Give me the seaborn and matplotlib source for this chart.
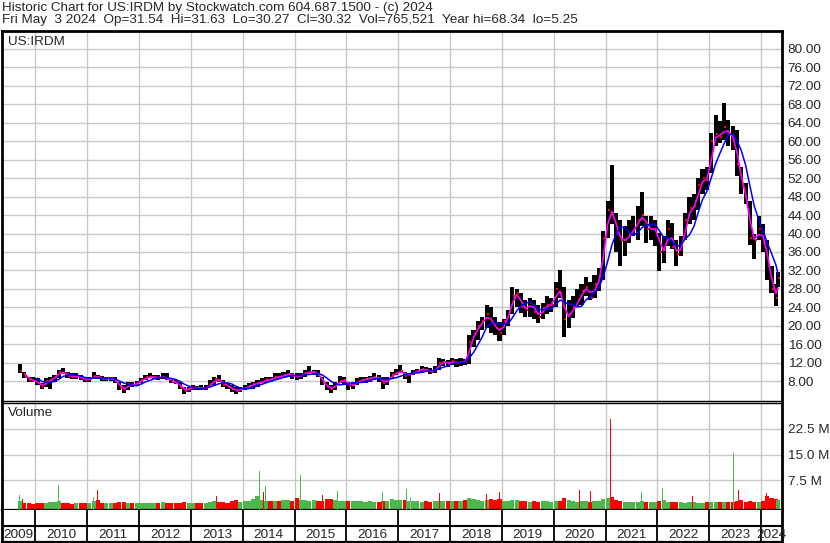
import matplotlib
matplotlib.use("Agg")
import matplotlib.pyplot as plt
import matplotlib.ticker as mticker
import numpy as np
import pandas as pd
import seaborn as sns

# ------------------------
# Data (monthly)
# ------------------------

months = pd.date_range("2009-09-01", "2024-05-01", freq="MS")

lows = [
    9.7, 8.6, 7.9, 7.9,  # 2009 Sep-Dec
    7.1, 6.2, 6.8, 6.4, 7.9, 8.6, 9.7, 8.6, 8.4, 8.4, 8.2, 7.9,  # 2010
    7.9, 8.4, 8.4, 8.1, 8.1, 8.1, 7.7, 6.0, 5.5, 6.0, 6.8, 6.9,  # 2011
    7.5, 8.2, 8.6, 8.4, 8.2, 8.4, 8.2, 7.5, 7.4, 6.4, 5.25, 5.7,  # 2012
    6.0, 6.0, 6.0, 6.0, 6.8, 7.2, 7.8, 6.8, 6.4, 5.7, 5.3, 5.7,  # 2013
    6.0, 6.2, 6.4, 6.8, 7.5, 7.7, 7.9, 8.2, 8.4, 8.6, 8.9, 8.4,  # 2014
    8.2, 8.4, 8.9, 9.7, 9.3, 8.8, 7.1, 6.0, 5.5, 6.0, 7.5, 7.1,  # 2015
    6.0, 6.4, 7.1, 7.7, 7.7, 7.9, 8.2, 7.9, 6.4, 7.1, 8.6, 9.3,  # 2016
    9.7, 8.4, 7.7, 9.3, 9.7, 9.8, 9.9, 9.6, 9.8, 10.4, 11.2, 11.0,  # 2017
    11.5, 11.1, 11.3, 11.5, 11.8, 15.5, 17.0, 19.0, 19.5, 18.5, 18.0, 16.7,  # 2018
    18.0, 19.9, 22.5, 24.0, 22.8, 22.0, 22.0, 21.4, 20.5, 21.5, 22.5, 23.0,  # 2019
    24.0, 26.0, 17.6, 19.5, 21.6, 24.0, 24.4, 26.5, 25.5, 26.0, 27.5, 30.0,  # 2020
    39.0, 42.0, 35.9, 33.0, 35.1, 38.0, 39.4, 38.7, 41.6, 38.0, 38.7, 37.3,  # 2021
    31.9, 33.7, 37.3, 36.6, 33.0, 35.1, 38.5, 42.0, 43.0, 45.0, 48.5, 49.5,  # 2022
    53.1, 58.9, 59.6, 60.3, 58.9, 58.1, 52.4, 48.5, 46.5, 37.5, 34.4, 38.5,  # 2023
    36.0, 30.0, 27.0, 24.3, 28.5,  # 2024 Jan-May
]

highs = [
    11.8, 10.0, 8.9, 8.8,
    8.6, 7.5, 8.6, 8.8, 9.3, 10.5, 10.9, 10.0, 9.7, 9.8, 9.3, 8.9,
    8.9, 9.9, 9.3, 9.1, 8.9, 8.9, 8.8, 7.9, 7.1, 7.9, 7.9, 8.1,
    8.6, 9.3, 9.7, 9.3, 9.3, 9.7, 9.7, 8.6, 8.2, 7.9, 6.8, 6.8,
    7.1, 6.9, 7.1, 7.1, 8.2, 8.9, 9.3, 8.2, 7.6, 7.1, 6.8, 6.8,
    7.1, 7.5, 7.9, 8.2, 8.6, 8.9, 8.8, 9.7, 9.7, 10.0, 10.4, 9.7,
    9.7, 9.8, 10.4, 11.3, 10.5, 10.4, 8.9, 7.9, 7.1, 7.9, 9.1, 8.9,
    7.9, 7.9, 8.6, 8.9, 8.9, 9.1, 9.7, 9.3, 8.8, 8.9, 10.0, 10.7,
    11.4, 10.0, 9.7, 10.5, 10.7, 11.3, 11.0, 10.8, 11.3, 13.1, 12.8, 12.6,
    13.1, 12.8, 13.0, 12.9, 18.1, 19.0, 21.0, 21.8, 24.5, 24.0, 22.0, 20.8,
    21.5, 23.5, 28.5, 28.0, 27.0, 25.5, 26.0, 25.5, 24.5, 25.0, 26.4, 26.0,
    29.5, 32.1, 28.5, 25.5, 26.5, 28.0, 29.0, 30.5, 29.5, 31.0, 32.5, 40.5,
    47.0, 54.8, 44.4, 43.0, 41.6, 43.0, 43.7, 45.9, 49.0, 43.7, 43.7, 43.0,
    40.1, 39.4, 43.0, 42.3, 38.7, 39.4, 44.5, 48.0, 48.5, 52.0, 54.0, 54.5,
    61.7, 65.7, 64.3, 68.34, 64.6, 63.2, 62.5, 54.5, 51.0, 47.0, 40.0, 43.8,
    42.0, 38.7, 33.0, 29.0, 31.63,
]

closes = [
    10.2, 9.0, 8.3, 8.1,
    7.5, 6.8, 8.0, 8.3, 9.0, 10.0, 9.8, 9.2, 8.9, 9.0, 8.6, 8.3,
    8.4, 9.2, 8.8, 8.5, 8.5, 8.6, 8.0, 6.5, 6.3, 7.3, 7.2, 7.6,
    8.3, 8.8, 8.8, 8.9, 8.7, 9.0, 8.5, 7.9, 7.6, 6.8, 5.8, 6.5,
    6.7, 6.5, 6.4, 6.6, 7.4, 8.4, 8.3, 7.2, 6.8, 6.2, 5.9, 6.3,
    6.6, 6.9, 7.4, 7.6, 7.9, 8.4, 8.3, 9.0, 8.9, 9.3, 9.6, 9.2,
    8.9, 9.3, 9.8, 10.0, 10.0, 9.3, 7.6, 6.7, 6.2, 7.4, 8.0, 8.2,
    7.0, 7.2, 7.9, 8.3, 8.4, 8.6, 8.9, 8.6, 7.5, 8.3, 9.4, 9.8,
    10.2, 9.2, 9.5, 9.8, 10.3, 10.6, 10.4, 10.0, 10.5, 12.0, 12.2, 11.8,
    12.3, 11.9, 12.2, 12.1, 16.5, 18.3, 20.0, 21.0, 22.5, 20.5, 19.5, 18.5,
    21.0, 23.0, 26.5, 27.0, 24.0, 23.5, 25.0, 23.0, 22.0, 23.8, 24.5, 24.6,
    28.0, 27.0, 21.5, 22.5, 24.0, 25.5, 27.5, 28.5, 26.0, 29.0, 30.5, 39.0,
    45.0, 44.5, 40.0, 38.5, 38.5, 40.0, 41.0, 43.0, 44.0, 41.0, 41.0, 41.0,
    36.0, 36.5, 41.0, 37.0, 35.5, 37.5, 43.0, 45.5, 46.0, 50.5, 52.0, 51.5,
    60.0, 61.5, 61.0, 63.0, 61.5, 60.5, 55.0, 50.0, 47.0, 39.0, 38.5, 41.0,
    38.0, 33.0, 28.0, 26.0, 30.32,
]

# typical daily volume in each month, millions
volumes = [
    1.6, 1.0, 0.8, 0.7,
    0.9, 1.0, 0.8, 1.2, 1.1, 1.6, 1.0, 0.8, 0.7, 0.8, 0.9, 0.8,
    0.9, 1.4, 1.8, 1.0, 0.9, 0.8, 0.9, 1.3, 1.1, 0.9, 0.8, 0.9,
    0.8, 0.9, 1.0, 0.9, 0.8, 1.2, 1.0, 0.9, 0.8, 1.0, 1.1, 0.9,
    0.8, 0.8, 0.9, 1.0, 1.2, 1.4, 1.1, 1.2, 1.0, 1.6, 1.8, 1.2,
    1.4, 1.6, 2.0, 2.8, 1.8, 1.6, 1.4, 1.5, 1.6, 1.8, 1.9, 1.5,
    2.4, 1.8, 1.9, 1.6, 1.7, 1.5, 1.6, 2.0, 2.2, 1.8, 1.6, 1.5,
    1.6, 1.5, 1.4, 1.5, 1.3, 1.4, 1.3, 1.2, 1.6, 1.4, 2.0, 1.8,
    1.7, 1.9, 1.5, 1.4, 1.6, 1.3, 1.4, 1.3, 1.4, 1.6, 1.5, 1.4,
    1.5, 1.6, 1.4, 1.9, 2.4, 2.0, 1.7, 1.6, 1.8, 2.0, 1.9, 2.0,
    1.6, 1.4, 1.8, 1.7, 1.5, 1.4, 1.3, 1.4, 1.3, 1.5, 1.4, 1.3,
    1.4, 1.6, 2.4, 1.8, 1.4, 1.3, 1.5, 1.4, 1.3, 1.4, 1.6, 2.2,
    2.4, 2.6, 1.7, 1.5, 1.3, 1.2, 1.1, 1.3, 1.4, 1.2, 1.1, 1.2,
    1.5, 1.8, 1.3, 1.2, 1.3, 1.1, 1.0, 1.2, 1.1, 1.0, 1.0, 1.1,
    1.2, 1.3, 1.1, 1.2, 1.3, 1.1, 1.6, 1.7, 1.3, 1.4, 1.3, 1.2,
    1.6, 2.8, 2.4, 2.2, 1.8,
]

# single heavy-volume days
spike_dates = pd.to_datetime([
    "2009-09-08", "2009-10-02", "2010-05-18", "2010-06-15", "2011-02-12",
    "2011-03-12", "2012-07-23", "2013-07-02", "2013-10-10", "2014-02-21",
    "2014-04-27", "2014-05-25", "2014-06-11", "2015-01-11", "2015-02-10",
    "2015-07-17", "2015-10-28", "2016-08-25", "2016-09-13", "2016-12-16",
    "2017-03-01", "2017-03-25", "2017-10-21", "2018-05-28", "2018-09-16",
    "2018-12-18", "2020-06-28", "2020-09-18", "2021-02-06", "2021-09-12",
    "2022-02-07", "2022-09-06", "2023-06-24", "2023-07-24", "2024-02-10",
])
spike_vols = [
    3.3, 2.0, 2.7, 6.2, 2.5,
    4.8, 2.0, 3.0, 3.4, 3.1,
    10.3, 4.0, 5.8, 3.0, 9.0,
    3.3, 4.4, 3.5, 4.2, 4.2,
    4.9, 2.6, 3.7, 8.8, 3.4,
    4.2, 4.7, 4.3, 25.4, 4.0,
    5.2, 3.0, 15.5, 4.6, 3.7,
]
spike_dirs = [
    "up", "down", "up", "up", "up",
    "down", "down", "down", "down", "up",
    "up", "down", "up", "down", "up",
    "down", "up", "down", "up", "down",
    "up", "flat", "down", "up", "down",
    "down", "down", "down", "down", "up",
    "up", "down", "up", "down", "down",
]

header1 = "Historic Chart for US:IRDM by Stockwatch.com 604.687.1500 - (c) 2024"
header2 = ("Fri May  3 2024  Op=31.54  Hi=31.63  Lo=30.27  Cl=30.32  "
           "Vol=765,521  Year hi=68.34  lo=5.25")
price_ticks = np.arange(8, 81, 4)
vol_ticks = [7.5, 15.0, 22.5]
vol_labels = ["7.5 M", "15.0 M", "22.5 M"]
year_starts = pd.date_range("2010-01-01", "2024-01-01", freq="YS")
year_labels = [str(y) for y in range(2009, 2025)]

# ------------------------
# Derived
# ------------------------

df = pd.DataFrame({"month": months, "low": lows, "high": highs,
                   "close": closes, "volume": volumes})
df["date"] = df["month"] + pd.Timedelta(days=14)
df.loc[df.index[-1], "date"] = pd.Timestamp("2024-05-01")
df["ma_fast"] = df["close"].rolling(2).mean()
df["ma_slow"] = df["close"].rolling(5).mean()
df["up"] = df["close"].diff().fillna(1) >= 0

COL_UP, COL_DN, COL_FLAT = "#4cb84c", "#ff0000", "#a8a8a8"
GRID = "#c8c8c8"
dir_col = {"up": COL_UP, "down": COL_DN, "flat": COL_FLAT}

# ------------------------
# Plotting
# ------------------------

sns.set_style("white")
plt.rcParams["font.family"] = ["Liberation Sans", "DejaVu Sans"]
plt.rcParams["font.size"] = 9

W, H = 830, 543
FS = 9.7


def px_box(x0, y0, x1, y1):
    return [x0 / W, 1 - y1 / H, (x1 - x0) / W, (y1 - y0) / H]


fig = plt.figure(figsize=(W / 100, H / 100), dpi=100)
ax = fig.add_axes(px_box(2, 31, 782, 400.5))
axv = fig.add_axes(px_box(2, 402.5, 782, 509.5))
axy = fig.add_axes(px_box(2, 509.5, 782, 542))

x_left, x_right = pd.Timestamp("2009-05-10"), pd.Timestamp("2024-05-28")

# price panel
ax.bar(df["date"], df["high"] - df["low"], bottom=df["low"], width=29,
       color="black", linewidth=0, zorder=2)
ax.scatter(df["date"] + pd.Timedelta(days=9), df["close"], marker="s", s=4,
           color="red", linewidths=0, zorder=3)
sns.lineplot(data=df, x="date", y="ma_fast", ax=ax, color="#ff00ff", lw=1.2, zorder=4)
sns.lineplot(data=df, x="date", y="ma_slow", ax=ax, color="#0000ff", lw=1.1, zorder=5)
ax.set_xlim(x_left, x_right)
ax.set_ylim(3.8, 83.9)
ax.set_yticks(price_ticks)
ax.yaxis.set_major_formatter(mticker.StrMethodFormatter("{x:.2f}"))
ax.yaxis.tick_right()
ax.set_xticks(year_starts)
ax.tick_params(axis="x", length=0, labelbottom=False)
ax.tick_params(axis="y", length=0, pad=4, labelsize=FS)
ax.grid(True, color=GRID, lw=1)
ax.set_axisbelow(True)
ax.set_xlabel("")
ax.set_ylabel("")

# volume panel
VOL_FLOOR = -1.0
vol_cols = [COL_UP if u else COL_DN for u in df["up"]]
axv.bar(df["date"], df["volume"] - VOL_FLOOR, bottom=VOL_FLOOR, width=29,
        color=vol_cols, linewidth=0, zorder=2)
axv.bar(spike_dates, np.array(spike_vols) - VOL_FLOOR, bottom=VOL_FLOOR, width=6,
        color=[dir_col[d] for d in spike_dirs], linewidth=0, zorder=3)
axv.set_xlim(x_left, x_right)
axv.set_ylim(VOL_FLOOR, 30.2)
axv.set_yticks(vol_ticks)
axv.set_yticklabels(vol_labels)
axv.yaxis.tick_right()
axv.set_xticks(year_starts)
axv.tick_params(axis="x", length=0, labelbottom=False)
axv.tick_params(axis="y", length=0, pad=4, labelsize=FS)
axv.grid(True, color=GRID, lw=1)
axv.set_axisbelow(True)

# year strip
axy.set_xlim(x_left, x_right)
axy.set_ylim(0, 1)
axy.set_xticks([])
axy.set_yticks([])
axy.vlines(year_starts, 0, 1, color="black", lw=1.3)
axy.axhline(0.48, color="black", lw=1.5)
bounds = [x_left] + list(year_starts) + [x_right]
for lab, a, b in zip(year_labels, bounds[:-1], bounds[1:]):
    axy.text(a + (b - a) / 2, 0.22, lab, ha="center", va="center", fontsize=FS)

for a in (ax, axv, axy):
    for s in a.spines.values():
        s.set_color("black")
        s.set_linewidth(1.0)
    a.spines["left"].set_linewidth(2)
    a.spines["right"].set_linewidth(2)
ax.spines["top"].set_linewidth(2)
axv.spines["bottom"].set_linewidth(1.6)
axy.spines["top"].set_visible(False)
axy.spines["bottom"].set_linewidth(1.6)

fig.text(2 / W, 1 - 2 / H, header1, ha="left", va="top", fontsize=FS)
fig.text(2 / W, 1 - 14.5 / H, header2, ha="left", va="top", fontsize=FS)
fig.text(8 / W, 1 - 42 / H, "US:IRDM", ha="left", va="center", fontsize=FS)
fig.text(8 / W, 1 - 413 / H, "Volume", ha="left", va="center", fontsize=FS)

fig.savefig("out.png", dpi=100)
plt.close(fig)
